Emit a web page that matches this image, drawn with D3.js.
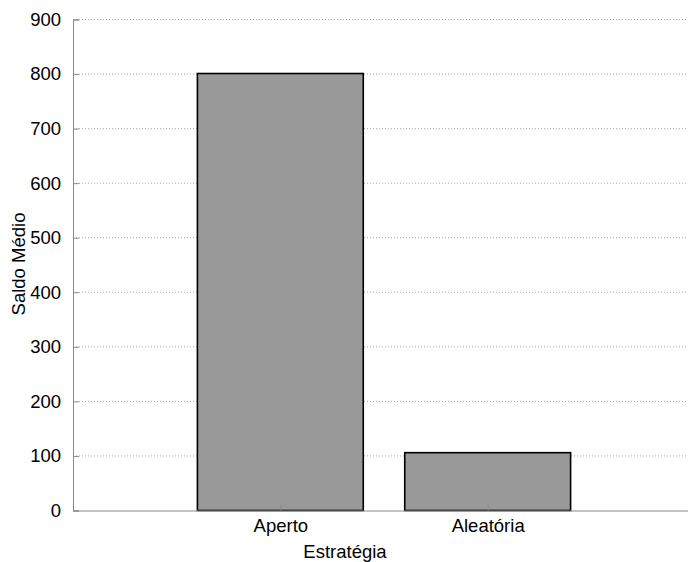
<!DOCTYPE html>
<html><head><meta charset="utf-8">
<script src="https://cdn.jsdelivr.net/npm/d3@7"></script>
<style>body{margin:0;background:#fff}svg{display:block}text{font-family:"Liberation Sans",Arial,Helvetica,sans-serif}</style>
</head><body>
<script>
const categories = ["Aperto", "Aleatória"];
const values = [801, 106];
const yTicks = [0, 100, 200, 300, 400, 500, 600, 700, 800, 900];
const xLabel = "Estratégia";
const yLabel = "Saldo Médio";

const W = 688, H = 562;
const svg = d3.select("body").append("svg").attr("width", W).attr("height", H);

const x = d3.scaleLinear().domain([0, 3]).range([73, 695]);
const y = d3.scaleLinear().domain([0, 900]).range([510.5, 19.5]);
const fs = 18.5;

// grid
svg.append("g").selectAll("line").data(yTicks.filter(d => d > 0)).join("line")
  .attr("x1", x(0)).attr("x2", x(3))
  .attr("y1", d => y(d)).attr("y2", d => y(d))
  .attr("stroke", "#a8a8a8").attr("stroke-width", 1).attr("stroke-dasharray", "1,2");

// bars
const bw = 0.8;
svg.append("g").selectAll("rect").data(values).join("rect")
  .attr("x", (d, i) => x(i + 1 - bw / 2))
  .attr("width", x(bw) - x(0))
  .attr("y", d => y(d))
  .attr("height", d => y(0) - y(d))
  .attr("fill", "#999999").attr("stroke", "#000").attr("stroke-width", 1.6);

// axes
const yAxis = d3.axisLeft(y).tickValues(yTicks).tickSize(-6).tickPadding(12).tickFormat(d3.format("d"));
const gy = svg.append("g").attr("transform", `translate(${x(0)},0)`).call(yAxis);
gy.select(".domain").attr("stroke", "#8a8a8a");
gy.selectAll(".tick line").attr("stroke", "#8a8a8a");
gy.selectAll("text").attr("font-size", fs).attr("fill", "#000").attr("font-family", "Liberation Sans, Arial, sans-serif");

const xAxis = d3.axisBottom(x).tickValues([1, 2]).tickSize(-6).tickPadding(8).tickFormat((d) => categories[d - 1]);
const gx = svg.append("g").attr("transform", `translate(0,${y(0)})`).call(xAxis);
gx.select(".domain").attr("stroke", "#8a8a8a");
gx.selectAll(".tick line").attr("stroke", "#8a8a8a");
gx.selectAll("text").attr("font-size", fs).attr("fill", "#000").attr("font-family", "Liberation Sans, Arial, sans-serif");

svg.append("text").attr("x", 345).attr("y", 558).attr("text-anchor", "middle")
  .attr("font-size", fs).text(xLabel);
svg.append("text").attr("transform", "translate(25,264) rotate(-90)").attr("text-anchor", "middle")
  .attr("font-size", fs).text(yLabel);
</script>
</body></html>
